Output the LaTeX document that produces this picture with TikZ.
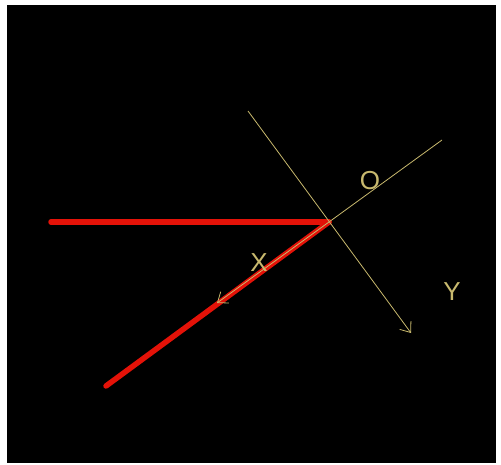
\documentclass[tikz,border=0pt]{standalone}
\usepackage{fontspec}
\setmainfont{Liberation Sans}
\usetikzlibrary{arrows.meta}
\definecolor{axisc}{RGB}{200,185,110}
\definecolor{beamc}{RGB}{228,18,8}
\begin{document}
\begin{tikzpicture}[x=1pt,y=-1pt,
  axis/.style={draw=axisc,line width=0.8pt},
  beam/.style={draw=beamc,line width=5.5pt,line cap=round},
  lbl/.style={text=axisc,font=\fontsize{26}{26}\selectfont,inner sep=0pt}]
\fill[white] (0,0) rectangle (501,465);
\useasboundingbox (0,0) rectangle (501,465);
\fill[black] (7,5) rectangle (496,463);
\coordinate (o) at (329,222);
\coordinate (left) at (51,222);
\coordinate (low) at (106,386);
\coordinate (xtip) at (217,303);
\coordinate (otop) at (442,140);
\coordinate (ytop) at (248,111);
\coordinate (ytip) at (411,333);
\draw[beam] (left) -- (o);
\draw[beam] (o) -- (low);
\draw[axis] (otop) -- (o);
\draw[axis,-{Straight Barb[length=9pt,width=14pt]}] (o) -- (xtip);
\draw[axis,-{Straight Barb[length=9pt,width=14pt]}] (ytop) -- (ytip);
\node[lbl] (lo) at (370,181) {O};
\node[lbl] (lx) at (259,263) {X};
\node[lbl] (ly) at (452,292) {Y};
\end{tikzpicture}
\end{document}
